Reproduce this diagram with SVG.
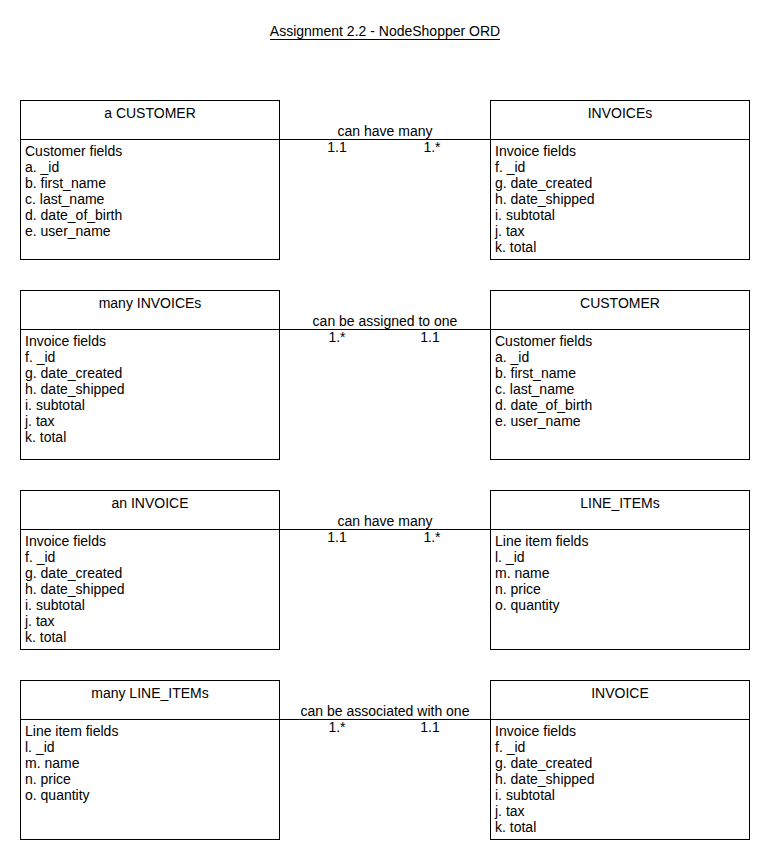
<svg xmlns="http://www.w3.org/2000/svg" width="770" height="860" viewBox="0 0 770 860">
<style>
text{font-family:"Liberation Sans",Arial,sans-serif;font-size:14px;fill:#000}
.c{text-anchor:middle}
rect{fill:#fff;stroke:#000;stroke-width:1}
line{stroke:#000;stroke-width:1}
</style>
<rect x="0" y="0" width="770" height="860" style="stroke:none"/>
<g id="title">
<text class="c" x="385" y="36">Assignment 2.2 - NodeShopper ORD</text>
<line x1="270" y1="39.5" x2="500" y2="39.5"/>
</g>
<g id="connectors">
<line x1="279" y1="139.5" x2="490" y2="139.5"/>
<text class="c" x="385" y="136">can have many</text>
<text class="c" x="337" y="152">1.1</text>
<text class="c" x="432" y="152">1.*</text>
<line x1="279" y1="329.5" x2="490" y2="329.5"/>
<text class="c" x="385" y="326">can be assigned to one</text>
<text class="c" x="337" y="342">1.*</text>
<text class="c" x="430" y="342">1.1</text>
<line x1="279" y1="529.5" x2="490" y2="529.5"/>
<text class="c" x="385" y="526">can have many</text>
<text class="c" x="337" y="542">1.1</text>
<text class="c" x="432" y="542">1.*</text>
<line x1="279" y1="719.5" x2="490" y2="719.5"/>
<text class="c" x="385" y="716">can be associated with one</text>
<text class="c" x="337" y="732">1.*</text>
<text class="c" x="430" y="732">1.1</text>
</g>
<g id="customer1">
<rect x="20.5" y="100.5" width="259" height="159"/>
<line x1="20" y1="139.5" x2="280" y2="139.5"/>
<text class="c" x="150" y="118">a CUSTOMER</text>
<text x="25" y="156">Customer fields</text>
<text x="25" y="172">a. _id</text>
<text x="25" y="188">b. first_name</text>
<text x="25" y="204">c. last_name</text>
<text x="25" y="220">d. date_of_birth</text>
<text x="25" y="236">e. user_name</text>
</g>
<g id="invoices1">
<rect x="490.5" y="100.5" width="259" height="159"/>
<line x1="490" y1="139.5" x2="750" y2="139.5"/>
<text class="c" x="620" y="118">INVOICEs</text>
<text x="495" y="156">Invoice fields</text>
<text x="495" y="172">f. _id</text>
<text x="495" y="188">g. date_created</text>
<text x="495" y="204">h. date_shipped</text>
<text x="495" y="220">i. subtotal</text>
<text x="495" y="236">j. tax</text>
<text x="495" y="252">k. total</text>
</g>
<g id="invoices2">
<rect x="20.5" y="290.5" width="259" height="169"/>
<line x1="20" y1="329.5" x2="280" y2="329.5"/>
<text class="c" x="150" y="308">many INVOICEs</text>
<text x="25" y="346">Invoice fields</text>
<text x="25" y="362">f. _id</text>
<text x="25" y="378">g. date_created</text>
<text x="25" y="394">h. date_shipped</text>
<text x="25" y="410">i. subtotal</text>
<text x="25" y="426">j. tax</text>
<text x="25" y="442">k. total</text>
</g>
<g id="customer2">
<rect x="490.5" y="290.5" width="259" height="169"/>
<line x1="490" y1="329.5" x2="750" y2="329.5"/>
<text class="c" x="620" y="308">CUSTOMER</text>
<text x="495" y="346">Customer fields</text>
<text x="495" y="362">a. _id</text>
<text x="495" y="378">b. first_name</text>
<text x="495" y="394">c. last_name</text>
<text x="495" y="410">d. date_of_birth</text>
<text x="495" y="426">e. user_name</text>
</g>
<g id="invoice3">
<rect x="20.5" y="490.5" width="259" height="159"/>
<line x1="20" y1="529.5" x2="280" y2="529.5"/>
<text class="c" x="150" y="508">an INVOICE</text>
<text x="25" y="546">Invoice fields</text>
<text x="25" y="562">f. _id</text>
<text x="25" y="578">g. date_created</text>
<text x="25" y="594">h. date_shipped</text>
<text x="25" y="610">i. subtotal</text>
<text x="25" y="626">j. tax</text>
<text x="25" y="642">k. total</text>
</g>
<g id="lineitems3">
<rect x="490.5" y="490.5" width="259" height="159"/>
<line x1="490" y1="529.5" x2="750" y2="529.5"/>
<text class="c" x="620" y="508">LINE_ITEMs</text>
<text x="495" y="546">Line item fields</text>
<text x="495" y="562">l. _id</text>
<text x="495" y="578">m. name</text>
<text x="495" y="594">n. price</text>
<text x="495" y="610">o. quantity</text>
</g>
<g id="lineitems4">
<rect x="20.5" y="680.5" width="259" height="159"/>
<line x1="20" y1="719.5" x2="280" y2="719.5"/>
<text class="c" x="150" y="698">many LINE_ITEMs</text>
<text x="25" y="736">Line item fields</text>
<text x="25" y="752">l. _id</text>
<text x="25" y="768">m. name</text>
<text x="25" y="784">n. price</text>
<text x="25" y="800">o. quantity</text>
</g>
<g id="invoice4">
<rect x="490.5" y="680.5" width="259" height="159"/>
<line x1="490" y1="719.5" x2="750" y2="719.5"/>
<text class="c" x="620" y="698">INVOICE</text>
<text x="495" y="736">Invoice fields</text>
<text x="495" y="752">f. _id</text>
<text x="495" y="768">g. date_created</text>
<text x="495" y="784">h. date_shipped</text>
<text x="495" y="800">i. subtotal</text>
<text x="495" y="816">j. tax</text>
<text x="495" y="832">k. total</text>
</g>
</svg>
